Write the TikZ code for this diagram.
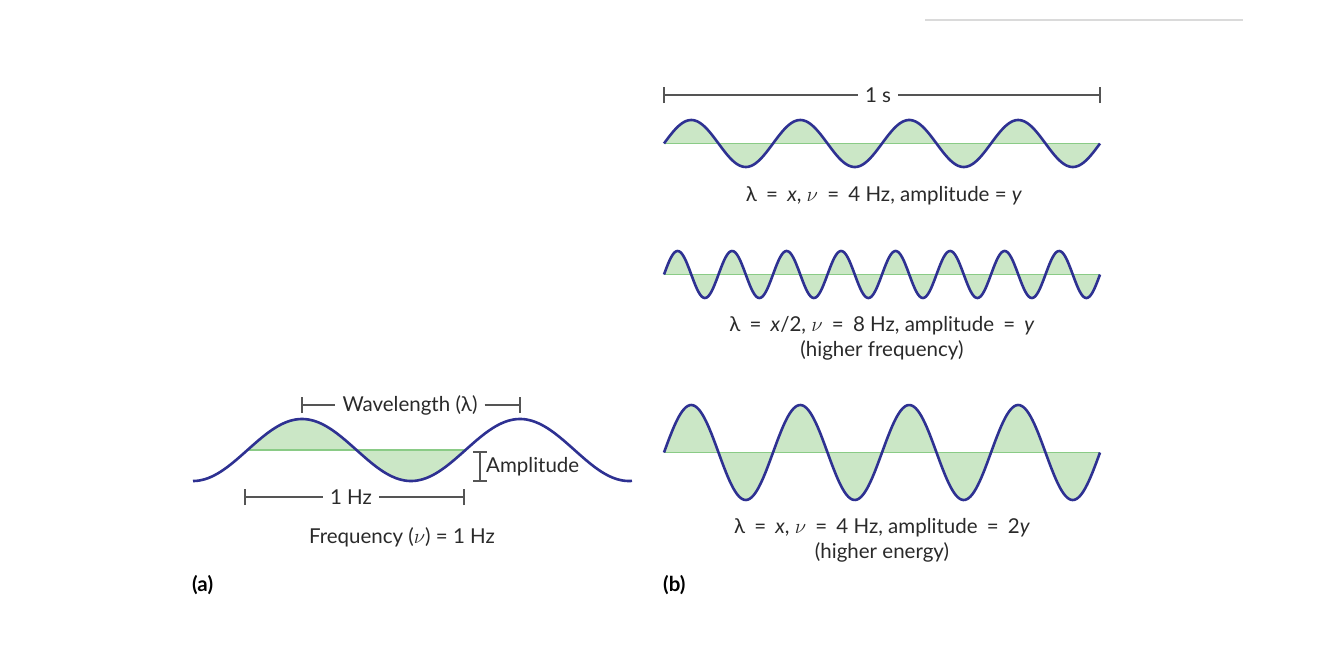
\documentclass[tikz,border=0pt]{standalone}
\usepackage{fontspec}
\setmainfont{Lato}
\definecolor{wave}{HTML}{2E3192}
\definecolor{fillg}{HTML}{CBE7C6}
\definecolor{lineg}{HTML}{8ACB86}
\definecolor{txt}{HTML}{2A2A2A}
\definecolor{dim}{HTML}{555555}
\definecolor{topline}{HTML}{DADADA}
\newcommand\weq{\hspace{0.45em}=\hspace{0.45em}}
\begin{document}
\begin{tikzpicture}[x=1pt,y=-1pt,
  wavepath/.style={draw=wave,line width=2.6pt,line join=round},
  wavefill/.style={fill=fillg},
  midline/.style={draw=lineg,line width=1.2pt},
  dimline/.style={draw=dim,line width=1.1pt},
  lbl/.style={text=txt,font=\fontsize{20.5}{24}\selectfont,inner sep=0pt},
  dimlbl/.style={text=txt,font=\fontsize{20.5}{24}\selectfont,inner xsep=7pt,inner ysep=0pt},
  panel/.style={text=black,font=\fontsize{20.5}{24}\selectfont\bfseries,inner sep=0pt}]
\useasboundingbox (0,0) rectangle (1334,648);
\fill[white] (0,0) rectangle (1334,648);
% top grey rule
\coordinate (tl) at (925,20); \coordinate (tr) at (1243,20);
\draw[topline,line width=2pt] (tl) -- (tr);

% ---------- (a) ----------
\fill[wavefill] plot[domain=247.5:465.5,samples=120] (\x,{450-31*cos((\x-302)/218*360)}) -- cycle;
\draw[midline] (247.5,450) -- (465.5,450);
\draw[wavepath] plot[domain=193:632,samples=200] (\x,{450-31*cos((\x-302)/218*360)});
% wavelength bar
\coordinate (wlL) at (302,405); \coordinate (wlR) at (520,405);
\node[dimlbl] (wl) at (410,405) {Wavelength (λ)};
\draw[dimline] (wlL) -- (wl.west) (wl.east) -- (wlR);
\draw[dimline] ([yshift=-8pt]wlL) -- ([yshift=8pt]wlL) ([yshift=-8pt]wlR) -- ([yshift=8pt]wlR);
% amplitude bar
\coordinate (amT) at (480,452); \coordinate (amB) at (480,481);
\draw[dimline] (amT) -- (amB) ([xshift=-7pt]amT) -- ([xshift=7pt]amT) ([xshift=-7pt]amB) -- ([xshift=7pt]amB);
\node[lbl,anchor=west] (amp) at (486,467) {Amplitude};
% 1 Hz bar
\coordinate (hzL) at (245,497); \coordinate (hzR) at (464,497);
\node[dimlbl] (hz) at (351,497) {1 Hz};
\draw[dimline] (hzL) -- (hz.west) (hz.east) -- (hzR);
\draw[dimline] ([yshift=-8pt]hzL) -- ([yshift=8pt]hzL) ([yshift=-8pt]hzR) -- ([yshift=8pt]hzR);
\node[lbl] (freq) at (402,537) {Frequency ($\nu$) = 1 Hz};
\node[panel,anchor=west] (pa) at (192,585) {(a)};

% ---------- (b) ----------
% 1 s bar
\coordinate (sL) at (664,95); \coordinate (sR) at (1100,95);
\node[dimlbl] (sec) at (878,95) {1 s};
\draw[dimline] (sL) -- (sec.west) (sec.east) -- (sR);
\draw[dimline] ([yshift=-8pt]sL) -- ([yshift=8pt]sL) ([yshift=-8pt]sR) -- ([yshift=8pt]sR);
% wave 1
\fill[wavefill] plot[domain=664:1100,samples=240] (\x,{143.5-23.5*sin((\x-664)/109*360)}) -- cycle;
\draw[midline] (664,143.5) -- (1100,143.5);
\draw[wavepath] plot[domain=664:1100,samples=240] (\x,{143.5-23.5*sin((\x-664)/109*360)});
\node[lbl] (l1) at (884,196) {λ\weq\textit{x}, $\nu$\weq 4 Hz, amplitude = \textit{y}};
% wave 2
\fill[wavefill] plot[domain=664:1100,samples=400] (\x,{274.5-23.5*sin((\x-664)/54.5*360)}) -- cycle;
\draw[midline] (664,274.5) -- (1100,274.5);
\draw[wavepath] plot[domain=664:1100,samples=400] (\x,{274.5-23.5*sin((\x-664)/54.5*360)});
\node[lbl] (l2) at (882,326) {λ\weq\textit{x}/2, $\nu$\weq 8 Hz, amplitude\weq\textit{y}};
\node[lbl] (l2b) at (882,350) {(higher frequency)};
% wave 3
\fill[wavefill] plot[domain=664:1100,samples=240] (\x,{452.5-47.5*sin((\x-664)/109*360)}) -- cycle;
\draw[midline] (664,452.5) -- (1100,452.5);
\draw[wavepath] plot[domain=664:1100,samples=240] (\x,{452.5-47.5*sin((\x-664)/109*360)});
\node[lbl] (l3) at (882,528) {λ\weq\textit{x}, $\nu$\weq 4 Hz, amplitude\weq 2\textit{y}};
\node[lbl] (l3b) at (882,552) {(higher energy)};
\node[panel,anchor=west] (pb) at (663,585) {(b)};
\end{tikzpicture}
\end{document}
